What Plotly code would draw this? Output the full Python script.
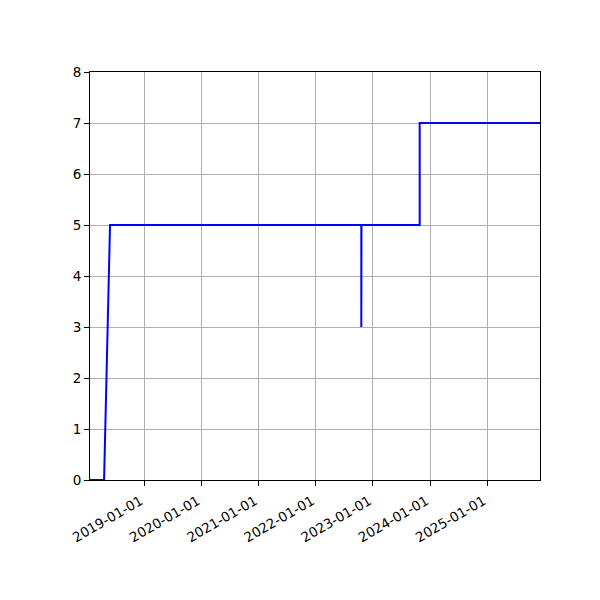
import plotly.graph_objects as go

# step series
dates = ["2018-01-19", "2018-04-19", "2018-05-27", "2022-10-19", "2022-10-19",
         "2022-10-20", "2023-10-27", "2023-10-27", "2025-12-04"]
values = [0, 0, 5, 5, 3, 5, 5, 7, 7]

tick_dates = ["2019-01-01", "2020-01-01", "2021-01-01", "2022-01-01",
              "2023-01-01", "2024-01-01", "2025-01-01"]

fig = go.Figure()
fig.add_trace(go.Scatter(x=dates, y=values, mode="lines",
                         line=dict(color="#0000ff", width=2), showlegend=False))

axis_style = dict(showline=True, linecolor="black", linewidth=1, mirror=True,
                  showgrid=True, gridcolor="#b0b0b0", gridwidth=1,
                  ticks="outside", ticklen=5, tickcolor="black", zeroline=False)

fig.update_xaxes(range=[dates[0], dates[-1]], tickvals=tick_dates,
                 ticktext=[t + " " for t in tick_dates], tickangle=-30,
                 **axis_style)
fig.update_yaxes(range=[0, 8], dtick=1, **axis_style)

# the page body adds an 8px offset, so margins are trimmed to compensate
fig.update_layout(
    width=600, height=600,
    margin=dict(l=82, r=68, t=64, b=128),
    plot_bgcolor="white", paper_bgcolor="white",
    font=dict(family="DejaVu Sans", size=13.5, color="black"),
)

fig.write_html("out.html")
